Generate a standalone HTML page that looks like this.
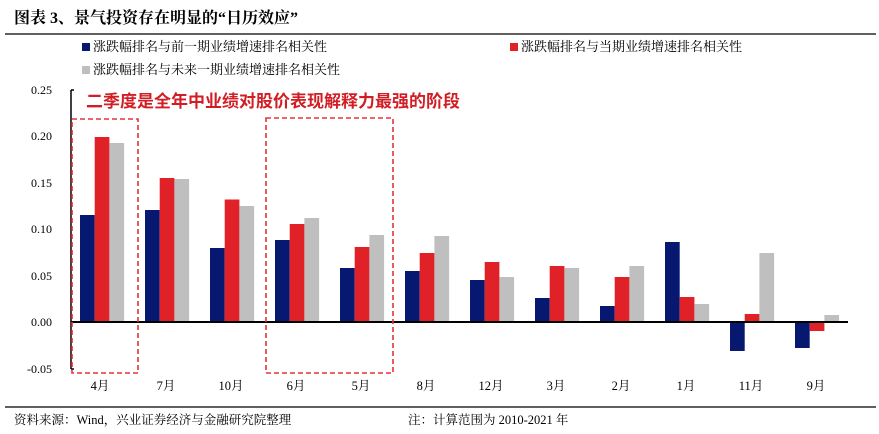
<!DOCTYPE html>
<html><head><meta charset="utf-8"><style>
body{margin:0;background:#fff;}
svg{display:block;font-family:"Liberation Serif","Noto Serif CJK SC",serif;}
</style></head><body>
<svg width="879" height="434" viewBox="0 0 879 434" xmlns="http://www.w3.org/2000/svg">
<text x="14" y="23" font-size="16" font-weight="bold" fill="#000">图表 3、景气投资存在明显的“日历效应”</text>
<line x1="5" y1="34" x2="876" y2="34" stroke="#000" stroke-width="1.2"/>
<rect x="82" y="43" width="8" height="8" fill="#06186f"/>
<text x="93" y="51" font-size="13">涨跌幅排名与前一期业绩增速排名相关性</text>
<rect x="510" y="43" width="8" height="8" fill="#e02127"/>
<text x="521" y="51" font-size="13">涨跌幅排名与当期业绩增速排名相关性</text>
<rect x="82" y="66" width="8" height="8" fill="#bfbfbf"/>
<text x="93" y="74" font-size="13">涨跌幅排名与未来一期业绩增速排名相关性</text>
<g font-size="12" text-anchor="end" fill="#000">
<text x="52" y="94">0.25</text><text x="52" y="140">0.20</text><text x="52" y="187">0.15</text>
<text x="52" y="233">0.10</text><text x="52" y="280">0.05</text><text x="52" y="326">0.00</text><text x="52" y="373">-0.05</text>
</g>
<line x1="71" y1="90" x2="71" y2="369" stroke="#000" stroke-width="1.5"/>
<g stroke="#000" stroke-width="1.5">
<line x1="71" y1="90" x2="74" y2="90"/><line x1="71" y1="369" x2="74" y2="369"/>
</g>
<text x="86" y="107" font-size="17" font-weight="bold" fill="#d11e25" font-family="Liberation Sans,Noto Sans CJK SC,sans-serif">二季度是全年中业绩对股价表现解释力最强的阶段</text>
<g>
<rect x="80" y="215" width="14.7" height="107" fill="#06186f"/><rect x="94.7" y="137" width="14.7" height="185" fill="#e02127"/><rect x="109.4" y="143" width="14.7" height="179" fill="#bfbfbf"/>
<rect x="145" y="210" width="14.7" height="112" fill="#06186f"/><rect x="159.7" y="178" width="14.7" height="144" fill="#e02127"/><rect x="174.4" y="179" width="14.7" height="143" fill="#bfbfbf"/>
<rect x="210" y="248" width="14.7" height="74" fill="#06186f"/><rect x="224.7" y="199.5" width="14.7" height="122.5" fill="#e02127"/><rect x="239.4" y="206" width="14.7" height="116" fill="#bfbfbf"/>
<rect x="275" y="240" width="14.7" height="82" fill="#06186f"/><rect x="289.7" y="224" width="14.7" height="98" fill="#e02127"/><rect x="304.4" y="218" width="14.7" height="104" fill="#bfbfbf"/>
<rect x="340" y="268" width="14.7" height="54" fill="#06186f"/><rect x="354.7" y="247" width="14.7" height="75" fill="#e02127"/><rect x="369.4" y="235" width="14.7" height="87" fill="#bfbfbf"/>
<rect x="405" y="271" width="14.7" height="51" fill="#06186f"/><rect x="419.7" y="253" width="14.7" height="69" fill="#e02127"/><rect x="434.4" y="236" width="14.7" height="86" fill="#bfbfbf"/>
<rect x="470" y="280" width="14.7" height="42" fill="#06186f"/><rect x="484.7" y="262" width="14.7" height="60" fill="#e02127"/><rect x="499.4" y="277" width="14.7" height="45" fill="#bfbfbf"/>
<rect x="535" y="298" width="14.7" height="24" fill="#06186f"/><rect x="549.7" y="266" width="14.7" height="56" fill="#e02127"/><rect x="564.4" y="268" width="14.7" height="54" fill="#bfbfbf"/>
<rect x="600" y="306" width="14.7" height="16" fill="#06186f"/><rect x="614.7" y="277" width="14.7" height="45" fill="#e02127"/><rect x="629.4" y="266" width="14.7" height="56" fill="#bfbfbf"/>
<rect x="665" y="242" width="14.7" height="80" fill="#06186f"/><rect x="679.7" y="297" width="14.7" height="25" fill="#e02127"/><rect x="694.4" y="304" width="14.7" height="18" fill="#bfbfbf"/>
<rect x="730" y="322" width="14.7" height="29" fill="#06186f"/><rect x="744.7" y="314" width="14.7" height="8" fill="#e02127"/><rect x="759.4" y="253" width="14.7" height="69" fill="#bfbfbf"/>
<rect x="795" y="322" width="14.7" height="26" fill="#06186f"/><rect x="809.7" y="322" width="14.7" height="9" fill="#e02127"/><rect x="824.4" y="315" width="14.7" height="7" fill="#bfbfbf"/>
</g>
<line x1="71" y1="322" x2="848" y2="322" stroke="#000" stroke-width="2"/>
<g fill="none" stroke="#e8323a" stroke-width="1.6" stroke-dasharray="5,3">
<rect x="72" y="119" width="66" height="254"/>
<rect x="266" y="118" width="127" height="255"/>
</g>
<g font-size="12.5" text-anchor="middle" fill="#000">
<text x="100" y="390">4月</text><text x="166" y="390">7月</text><text x="231" y="390">10月</text>
<text x="296" y="390">6月</text><text x="361" y="390">5月</text><text x="426" y="390">8月</text>
<text x="491" y="390">12月</text><text x="556" y="390">3月</text><text x="621" y="390">2月</text>
<text x="686" y="390">1月</text><text x="751" y="390">11月</text><text x="816" y="390">9月</text>
</g>
<line x1="5" y1="407" x2="876" y2="407" stroke="#000" stroke-width="1.2"/>
<text x="14" y="424" font-size="12.5">资料来源：Wind，兴业证券经济与金融研究院整理</text>
<text x="408" y="424" font-size="12.5">注：计算范围为 2010-2021 年</text>
</svg>
</body></html>
